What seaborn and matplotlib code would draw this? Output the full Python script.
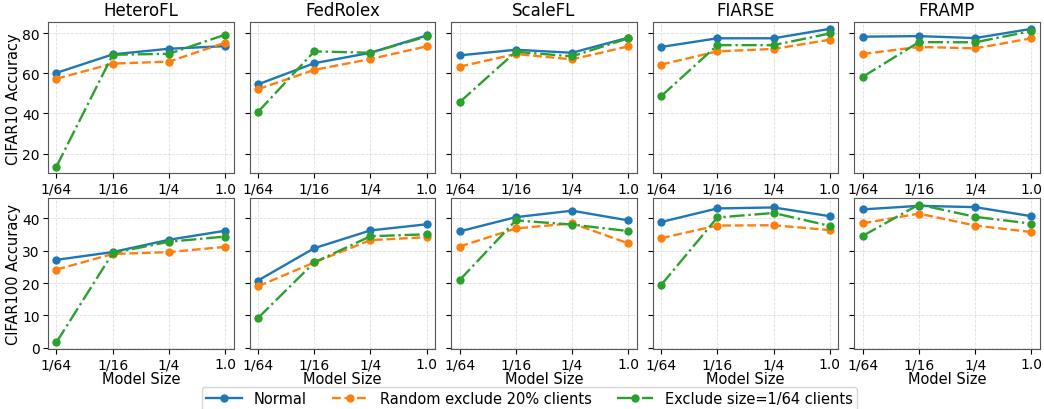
import numpy as np
import pandas as pd
import seaborn as sns
import matplotlib
matplotlib.use('Agg')
import matplotlib.pyplot as plt

# Datos
metodos = ['HeteroFL', 'FedRolex', 'ScaleFL', 'FIARSE', 'FRAMP']
tamanos = ['1/64', '1/16', '1/4', '1.0']
series = ['Normal', 'Random exclude 20% clients', 'Exclude size=1/64 clients']

cifar10_normal = [[60.2, 69.4, 72.2, 73.5], [54.5, 65.0, 70.2, 78.8], [68.9, 71.7, 70.2, 77.7],
                  [73.1, 77.4, 77.4, 82.1], [78.2, 78.5, 77.5, 82.1]]
cifar10_random = [[57.3, 64.8, 65.8, 75.2], [52.1, 61.7, 67.1, 73.4], [63.3, 69.6, 66.9, 73.4],
                  [64.3, 70.9, 72.1, 76.7], [69.6, 73.1, 72.4, 77.4]]
cifar10_exclude = [[13.6, 69.2, 69.7, 79.2], [40.8, 70.9, 70.2, 78.3], [45.6, 70.7, 68.4, 77.4],
                   [48.6, 74.0, 74.0, 79.8], [58.2, 75.5, 75.4, 81.0]]

cifar100_normal = [[27.2, 29.6, 33.4, 36.2], [20.8, 30.8, 36.3, 38.2], [36.0, 40.4, 42.4, 39.4],
                   [38.9, 43.1, 43.4, 40.7], [42.8, 43.9, 43.5, 40.7]]
cifar100_random = [[24.2, 29.0, 29.6, 31.2], [19.0, 26.4, 33.3, 34.2], [31.3, 36.9, 38.5, 32.3],
                   [33.9, 37.8, 37.9, 36.4], [38.5, 41.5, 37.8, 35.8]]
cifar100_exclude = [[1.7, 29.3, 32.8, 34.4], [9.2, 26.4, 34.5, 35.1], [20.9, 39.4, 38.1, 36.1],
                    [19.4, 40.3, 41.7, 37.7], [34.6, 44.3, 40.5, 38.4]]

# Construye el DataFrame largo
filas = []
for ds, datos in [('CIFAR10', [cifar10_normal, cifar10_random, cifar10_exclude]),
                  ('CIFAR100', [cifar100_normal, cifar100_random, cifar100_exclude])]:
    for s, serie in zip(series, datos):
        for m, valores in zip(metodos, serie):
            for i, v in enumerate(valores):
                filas.append({'dataset': ds, 'metodo': m, 'serie': s, 'pos': i, 'acc': v})
df = pd.DataFrame(filas)

colores = dict(zip(series, ['#1f77b4', '#ff7f0e', '#2ca02c']))
guiones = dict(zip(series, ['', (3.7, 1.6), (6.4, 1.6, 1, 1.6)]))
marcadores = dict(zip(series, ['o', 'o', 'o']))

fig, axes = plt.subplots(2, 5, figsize=(10.44, 4.1), dpi=100, sharey='row')
fig.subplots_adjust(left=0.046, right=0.996, top=0.944, bottom=0.146, wspace=0.086, hspace=0.16)

for r, ds in enumerate(['CIFAR10', 'CIFAR100']):
    for c, m in enumerate(metodos):
        ax = axes[r, c]
        sub = df[(df.dataset == ds) & (df.metodo == m)]
        sns.lineplot(data=sub, x='pos', y='acc', hue='serie', style='serie',
                     palette=colores, dashes=guiones, markers=marcadores,
                     markersize=6, markeredgewidth=0, linewidth=1.7, ax=ax)
        ax.set_xticks(range(len(tamanos)))
        ax.set_xticklabels(tamanos)
        ax.tick_params(labelsize=10, pad=2.5)
        ax.grid(True, linestyle='--', linewidth=0.6, alpha=0.4)
        for sp in ax.spines.values():
            sp.set_color('#555555')
        ax.set_ylabel('')
        ax.set_xlabel('Model Size' if r == 1 else '', fontsize=10.5, labelpad=0)
        if r == 0:
            ax.set_title(m, fontsize=12, pad=5)
        if c == 0:
            ax.set_ylabel(f'{ds} Accuracy', fontsize=10.5, labelpad=1)
        if r == 0 and c == 0:
            handles, labels = ax.get_legend_handles_labels()
        ax.get_legend().remove()

fig.legend(handles, labels, loc='lower center', bbox_to_anchor=(0.507, -0.022), ncol=3,
           fontsize=10.5, handlelength=2.5, columnspacing=1.7, borderpad=0.3, frameon=True)

fig.savefig('out.png', dpi=100)
